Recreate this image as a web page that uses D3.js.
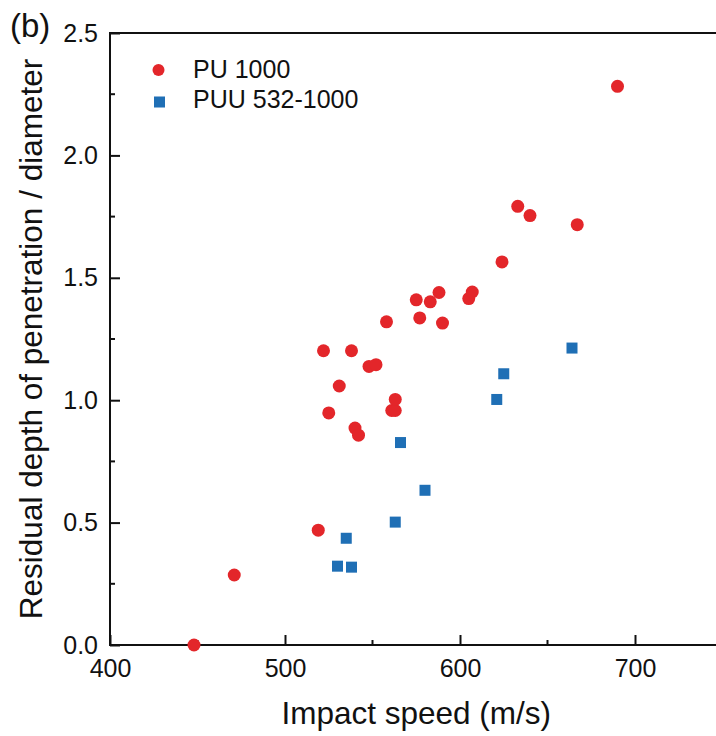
<!DOCTYPE html>
<html>
<head>
<meta charset="utf-8">
<script src="https://cdn.jsdelivr.net/npm/d3@7"></script>
<style>
  body { margin: 0; background: #fff; }
  svg text { font-family: "Liberation Sans", Arial, sans-serif; fill: #111; }
</style>
</head>
<body>
<div id="chart"></div>
<script>
// PU 1000 series
const pu_speed = [448, 471, 519, 522, 525, 531, 538, 540, 542, 548, 552, 558, 561, 563, 563,
                  575, 577, 583, 588, 590, 605, 607, 624, 633, 640, 667, 690];
const pu_depth = [0.0, 0.286, 0.469, 1.202, 0.948, 1.058, 1.202, 0.886, 0.857, 1.138, 1.145, 1.32, 0.958, 0.958, 1.003,
                  1.41, 1.336, 1.402, 1.44, 1.315, 1.415, 1.442, 1.565, 1.792, 1.754, 1.717, 2.282];
// PUU 532-1000 series
const puu_speed = [530, 535, 538, 563, 566, 580, 621, 625, 664];
const puu_depth = [0.322, 0.436, 0.318, 0.502, 0.827, 0.632, 1.003, 1.108, 1.213];

const x_ticks = [400, 500, 600, 700];
const y_ticks = [0.0, 0.5, 1.0, 1.5, 2.0, 2.5];
const legend_labels = ["PU 1000", "PUU 532-1000"];

const width = 716, height = 736;
const margin = { left: 110, top: 33, bottom: 91 };
const red = "#e3262a", blue = "#1f6fb5";

const svg = d3.select("#chart").append("svg")
    .attr("width", width)
    .attr("height", height);

const x = d3.scaleLinear().domain([400, 750]).range([margin.left, margin.left + 612.5]);
const y = d3.scaleLinear().domain([0, 2.5]).range([height - margin.bottom, margin.top]);

// frame lines (left, bottom, top)
const x0 = x(400), x1 = x(750), y0 = y(0), y1 = y(2.5);
svg.append("path")
    .attr("d", `M${x1},${y1}H${x0}V${y0}H${x1}`)
    .attr("fill", "none").attr("stroke", "#111").attr("stroke-width", 2);

// x axis: major ticks pointing in
const xAxis = svg.append("g").attr("transform", `translate(0,${y0})`)
    .call(d3.axisBottom(x).tickValues(x_ticks).tickSizeInner(-10).tickSizeOuter(0).tickPadding(14));
xAxis.select(".domain").remove();
xAxis.selectAll("line").attr("stroke", "#111").attr("stroke-width", 2);
xAxis.selectAll("text").style("font-size", "25px").attr("fill", "#111");

// x minor ticks
svg.append("g").selectAll("line")
    .data([450, 550, 650])
    .enter().append("line")
    .attr("x1", d => x(d)).attr("x2", d => x(d))
    .attr("y1", y0).attr("y2", y0 - 5)
    .attr("stroke", "#111").attr("stroke-width", 2);

// y axis
const yAxis = svg.append("g").attr("transform", `translate(${x0},0)`)
    .call(d3.axisLeft(y).tickValues(y_ticks).tickFormat(d3.format(".1f"))
        .tickSizeInner(-10).tickSizeOuter(0).tickPadding(12));
yAxis.select(".domain").remove();
yAxis.selectAll("line").attr("stroke", "#111").attr("stroke-width", 2);
yAxis.selectAll("text").style("font-size", "25px").attr("fill", "#111");

svg.append("g").selectAll("line")
    .data([0.25, 0.75, 1.25, 1.75, 2.25])
    .enter().append("line")
    .attr("x1", x0).attr("x2", x0 + 5)
    .attr("y1", d => y(d)).attr("y2", d => y(d))
    .attr("stroke", "#111").attr("stroke-width", 2);

// axis titles
svg.append("text")
    .attr("x", (x0 + x1) / 2).attr("y", 724)
    .attr("text-anchor", "middle")
    .style("font-size", "31.5px")
    .text("Impact speed (m/s)");

svg.append("text")
    .attr("transform", `translate(42,${(y0 + y1) / 2}) rotate(-90)`)
    .attr("text-anchor", "middle")
    .style("font-size", "31.5px")
    .text("Residual depth of penetration / diameter");

svg.append("text")
    .attr("x", 10).attr("y", 37)
    .style("font-size", "33px")
    .text("(b)");

// points
svg.append("g").selectAll("circle")
    .data(d3.zip(pu_speed, pu_depth))
    .enter().append("circle")
    .attr("cx", d => x(d[0]))
    .attr("cy", d => y(d[1]))
    .attr("r", 6.5)
    .attr("fill", red);

const sq = 11;
svg.append("g").selectAll("rect")
    .data(d3.zip(puu_speed, puu_depth))
    .enter().append("rect")
    .attr("x", d => x(d[0]) - sq / 2)
    .attr("y", d => y(d[1]) - sq / 2)
    .attr("width", sq).attr("height", sq)
    .attr("fill", blue);

// legend
const legend = svg.append("g");
legend.append("circle").attr("cx", 158.5).attr("cy", 70).attr("r", 6).attr("fill", red);
legend.append("rect").attr("x", 154).attr("y", 96.5).attr("width", sq).attr("height", sq).attr("fill", blue);
legend.selectAll("text")
    .data(legend_labels)
    .enter().append("text")
    .attr("x", 193)
    .attr("y", (d, i) => 78 + i * 30)
    .style("font-size", "25px")
    .text(d => d);
</script>
</body>
</html>
